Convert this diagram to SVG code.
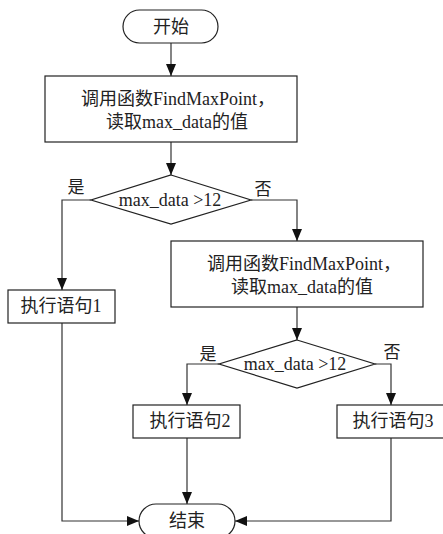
<svg xmlns="http://www.w3.org/2000/svg" width="443" height="534" viewBox="0 0 443 534">
<defs>
<marker id="arr" markerUnits="userSpaceOnUse" markerWidth="12" markerHeight="10" refX="12" refY="5" orient="auto">
<path d="M0,0 L12,5 L0,10 z" fill="#111"/>
</marker>
<style>
.shape{fill:#fff;stroke:#222;stroke-width:1.2}
.t{font-family:"Liberation Serif","Noto Sans CJK SC",serif;font-size:18px;fill:#222;text-anchor:middle;dominant-baseline:central}
.lbl{font-family:"Liberation Serif","Noto Sans CJK SC",serif;font-size:17px;fill:#222;text-anchor:middle;dominant-baseline:central}
.c{fill:none;stroke:#333;stroke-width:1.2}
</style>
</defs>
<rect width="443" height="534" fill="#fff"/>
<g id="connectors">
<path class="c" d="M171,43 V76" marker-end="url(#arr)"/>
<path class="c" d="M171,142 V175" marker-end="url(#arr)"/>
<path class="c" d="M91,200 H62 V290" marker-end="url(#arr)"/>
<path class="c" d="M251,200 H297 V241" marker-end="url(#arr)"/>
<path class="c" d="M297,307 V340" marker-end="url(#arr)"/>
<path class="c" d="M219,364 H187 V405" marker-end="url(#arr)"/>
<path class="c" d="M375,364 H391 V405" marker-end="url(#arr)"/>
<path class="c" d="M187,438 V504" marker-end="url(#arr)"/>
<path class="c" d="M62,323 V521 H139" marker-end="url(#arr)"/>
<path class="c" d="M391,438 V521 H235" marker-end="url(#arr)"/>
<text class="lbl" x="76" y="187">是</text>
<text class="lbl" x="263" y="189">否</text>
<text class="lbl" x="208" y="354">是</text>
<text class="lbl" x="392" y="352">否</text>
</g>
<g id="start">
<rect class="shape" x="123" y="10" width="95" height="33" rx="16.5"/>
<text class="t" x="171" y="27">开始</text>
</g>
<g id="read1">
<rect class="shape" x="45" y="76" width="252" height="66"/>
<text class="t" x="178" y="99">调用函数FindMaxPoint，</text>
<text class="t" x="177" y="122">读取max_data的值</text>
</g>
<g id="cond1">
<polygon class="shape" points="171,175 251,200 171,224 91,200"/>
<text class="t" x="170" y="200">max_data &gt;12</text>
</g>
<g id="exec1">
<rect class="shape" x="8" y="290" width="107" height="33"/>
<text class="t" x="61" y="306">执行语句1</text>
</g>
<g id="read2">
<rect class="shape" x="171" y="241" width="252" height="66"/>
<text class="t" x="304" y="264">调用函数FindMaxPoint，</text>
<text class="t" x="302" y="287">读取max_data的值</text>
</g>
<g id="cond2">
<polygon class="shape" points="297,340 375,364 297,388 219,364"/>
<text class="t" x="295" y="364">max_data &gt;12</text>
</g>
<g id="exec2">
<rect class="shape" x="133" y="405" width="107" height="33"/>
<text class="t" x="190" y="421">执行语句2</text>
</g>
<g id="exec3">
<rect class="shape" x="337" y="405" width="108" height="33"/>
<text class="t" x="393" y="421">执行语句3</text>
</g>
<g id="end">
<rect class="shape" x="139" y="504" width="96" height="34" rx="17"/>
<text class="t" x="187" y="521">结束</text>
</g>
</svg>
